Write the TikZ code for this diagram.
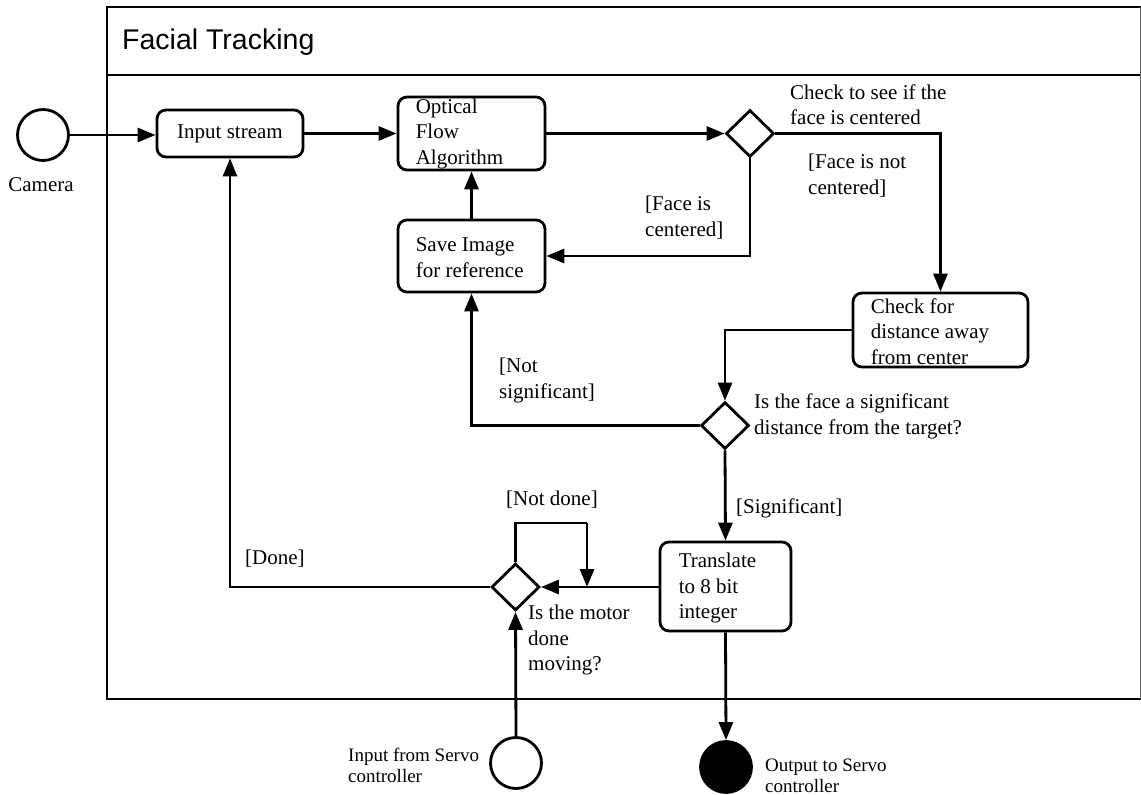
\documentclass[tikz,border=0pt]{standalone}
\usepackage{fontspec}
\setmainfont{Liberation Serif}
\newfontfamily\titlefont{Liberation Sans}
\usetikzlibrary{arrows.meta,shapes.geometric}

\tikzset{
  flow/.style={line width=2.8pt, -{Triangle[length=18pt,width=14pt]}},
  plain/.style={line width=2.8pt},
  actbox/.style={draw, line width=2.8pt, rounded corners=9pt, inner sep=0pt},
  decision/.style={draw, line width=2.8pt, diamond, inner sep=0pt,
    minimum width=48pt, minimum height=47pt},
  endpoint/.style={draw, line width=2.8pt, circle, inner sep=0pt, minimum size=51pt},
  txt/.style={inner sep=0pt, align=left, font=\fontsize{21}{25.5}\selectfont},
  smalltxt/.style={inner sep=0pt, align=left, font=\fontsize{19}{21}\selectfont},
}

\begin{document}
\begin{tikzpicture}[x=1pt, y=-1pt]
\useasboundingbox (0,0) rectangle (1141,795);

% swimlane frame
\draw[line width=2.8pt] (107,75) -- (1141,75);
\draw[line width=2.8pt] (1141,7) -- (107,7) -- (107,699) -- (1141,699);
\draw[line width=1.2pt, black!60] (1140.4,7) -- (1140.4,699);
\node[anchor=west, inner sep=0pt, font=\titlefont\fontsize{28.5}{30}\selectfont] (title) at (122,42) {Facial Tracking};

% actions
\node[actbox, minimum width=146pt, minimum height=47pt] (input) at (230,133.5) {};
\node[txt] (inputt) at (input.center) {Input stream};
\node[actbox, minimum width=147pt, minimum height=73pt] (optical) at (471.5,133.5) {};
\node[txt, anchor=west] (opticalt) at ([xshift=19pt]optical.west) {Optical\\Flow\\Algorithm};
\node[actbox, minimum width=147pt, minimum height=72pt] (save) at (471.5,256) {};
\node[txt, anchor=west] (savet) at ([xshift=19pt, yshift=-1.5pt]save.west) {Save Image\\for reference};
\node[actbox, minimum width=175pt, minimum height=74pt] (check) at (940.5,330) {};
\node[txt, anchor=west] (checkt) at ([xshift=19pt, yshift=-1.5pt]check.west) {Check for\\distance away\\from center};
\node[actbox, minimum width=131pt, minimum height=89pt] (translate) at (725.5,586.5) {};
\node[txt, anchor=west] (translatet) at ([xshift=20pt, yshift=-1.5pt]translate.west) {Translate\\to 8 bit\\integer};

% decisions
\node[decision] (dec1) at (750,133.5) {};
\node[decision] (dec2) at (725,425.5) {};
\node[decision] (dec3) at (515.5,587) {};

% start / end points
\node[endpoint] (camera) at (43,135) {};
\node[endpoint] (servoin) at (516,763) {};
\node[endpoint, fill=black] (servoout) at (726,767) {};

% connectors
\draw[flow] (camera.east) -- (input.west |- camera.east);
\draw[flow] (input.east) -- (optical.west);
\draw[flow] (optical.east) -- (dec1.west);
\draw[flow] (save.north) -- (optical.south);
\draw[flow] (dec1.south) |- (save.east);
\draw[flow] (dec1.east) -| (check.north);
\draw[flow] (check.west) -| (dec2.north);
\draw[flow] (dec2.west) -| (save.south);
\draw[flow] (dec2.south) -- (translate.north);
\draw[flow] (translate.west |- dec3.east) -- (dec3.east);
\coordinate (loopA) at (515.5,523);
\coordinate (loopB) at (587,523);
\draw[plain] (dec3.north) -- (loopA) -- (loopB);
\draw[flow] (loopB) -- (loopB |- dec3.east);
\draw[flow] (dec3.west) -| (input.south);
\draw[flow] (servoin.north) -- (dec3.south);
\draw[flow] (translate.south) -- (servoout.north);

% labels
\node[txt, anchor=north] (camlbl) at (41,177) {Camera};
\node[txt, anchor=west] (q1) at (790,104.5) {Check to see if the\\face is centered};
\node[txt, anchor=west] (g1) at (808,175.5) {[Face is not\\centered]};
\node[txt, anchor=west] (g2) at (645,217.5) {[Face is\\centered]};
\node[txt, anchor=west] (g3) at (499,380.5) {[Not\\significant]};
\node[txt, anchor=west] (q2) at (754,416.5) {Is the face a significant\\distance from the target?};
\node[txt, anchor=west] (g4) at (736,508) {[Significant]};
\node[txt] (g5) at (552,500) {[Not done]};
\node[txt, anchor=west] (g6) at (245,559) {[Done]};
\node[txt, anchor=west] (q3) at (528,640) {Is the motor\\done\\moving?};
\node[smalltxt, anchor=west] (inlbl) at (348,765) {Input from Servo\\controller};
\node[smalltxt, anchor=west] (outlbl) at (765,776) {Output to Servo\\controller};
\end{tikzpicture}
\end{document}
